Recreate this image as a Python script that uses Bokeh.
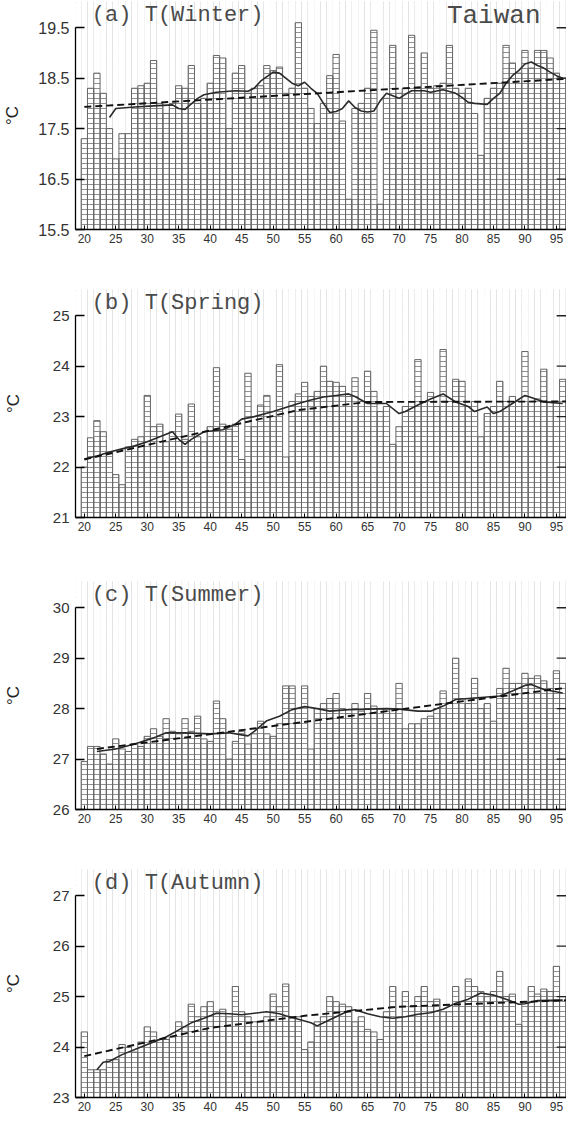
from math import pi
from bokeh.plotting import figure
from bokeh.layouts import column
from bokeh.models import Range1d, FixedTicker, Label
from bokeh.embed import file_html
from bokeh.resources import INLINE

years = list(range(1920, 1997))
tick_years = list(range(1920, 2000, 5))
tick_labels = [str(y % 100) for y in tick_years]

winter = [17.3, 18.3, 18.6, 18.2, 17.5, 16.9, 17.4, 17.4, 18.3, 18.35,
          18.4, 18.85, 18.0, 17.8, 18.0, 18.35, 18.3, 18.75, 18.0, 18.1,
          18.4, 18.95, 18.9, 17.5, 18.6, 18.75, 18.2, 18.3, 18.35, 18.75,
          18.65, 18.72, 18.2, 18.3, 19.6, 18.3, 17.9, 17.6, 18.0, 18.55,
          18.97, 17.65, 16.1, 17.9, 18.0, 18.3, 19.45, 16.0, 18.1, 19.15,
          18.2, 18.3, 19.35, 18.3, 19.0, 18.3, 18.35, 18.4, 19.15, 18.3,
          18.2, 18.3, 17.8, 16.97, 18.1, 18.3, 18.4, 19.15, 18.8, 18.6,
          19.05, 18.7, 19.05, 19.05, 18.9, 18.6, 18.5]
winter_ma_years = [1924, 1925, 1928, 1931, 1934, 1935, 1936, 1938, 1939, 1941,
                   1944, 1946, 1947, 1948, 1950, 1951, 1953, 1954, 1955, 1956,
                   1957, 1958, 1959, 1960, 1961, 1962, 1963, 1964, 1965, 1966,
                   1967, 1968, 1969, 1970, 1971, 1972, 1974, 1975, 1977, 1979,
                   1980, 1981, 1982, 1984, 1985, 1986, 1987, 1988, 1989, 1990,
                   1991, 1992, 1993, 1994, 1995, 1996]
winter_ma = [17.72, 17.9, 17.93, 17.95, 17.97, 17.9, 17.88, 18.1, 18.17, 18.22,
             18.25, 18.24, 18.3, 18.44, 18.62, 18.6, 18.4, 18.35, 18.42, 18.3,
             18.2, 18.0, 17.82, 17.84, 17.9, 18.05, 17.92, 17.85, 17.83, 17.85,
             18.05, 18.2, 18.15, 18.1, 18.18, 18.25, 18.25, 18.22, 18.27, 18.2,
             18.12, 18.02, 18.0, 17.98, 18.1, 18.2, 18.4, 18.55, 18.65, 18.78,
             18.82, 18.75, 18.7, 18.62, 18.55, 18.5]
winter_trend_years = [1920, 1997]
winter_trend = [17.93, 18.49]

spring = [22.0, 22.58, 22.92, 22.7, 22.3, 21.85, 21.65, 22.4, 22.55, 22.6,
          23.42, 22.8, 22.85, 22.5, 22.7, 23.05, 22.55, 23.25, 22.6, 22.5,
          22.8, 23.97, 22.85, 22.75, 22.85, 22.15, 23.86, 22.8, 23.23, 23.42,
          23.0, 24.03, 22.2, 23.3, 23.45, 23.68, 23.4, 23.5, 24.0, 23.7,
          23.68, 23.6, 23.4, 23.77, 23.3, 23.9, 23.5, 23.1, 23.2, 22.45,
          22.8, 23.2, 23.3, 24.13, 23.3, 23.48, 23.2, 24.33, 23.3, 23.74,
          23.7, 23.2, 23.3, 22.6, 23.06, 23.2, 23.7, 23.3, 23.4, 23.3,
          24.29, 23.3, 23.35, 23.94, 23.3, 23.3, 23.74]
spring_ma_years = [1920, 1922, 1924, 1926, 1928, 1930, 1932, 1934, 1935, 1936,
                   1937, 1939, 1942, 1944, 1945, 1947, 1950, 1952, 1954, 1956,
                   1958, 1960, 1962, 1963, 1965, 1968, 1970, 1971, 1973, 1975,
                   1977, 1979, 1981, 1982, 1984, 1985, 1986, 1988, 1990, 1991,
                   1993, 1996]
spring_ma = [22.16, 22.22, 22.3, 22.36, 22.42, 22.5, 22.6, 22.7, 22.55, 22.45,
             22.55, 22.7, 22.74, 22.85, 22.95, 23.0, 23.1, 23.18, 23.26, 23.33,
             23.39, 23.42, 23.45, 23.4, 23.26, 23.26, 23.06, 23.1, 23.23, 23.35,
             23.45, 23.29, 23.2, 23.1, 23.19, 23.06, 23.1, 23.26, 23.42, 23.38,
             23.29, 23.26]
spring_trend_years = [1920, 1954, 1965, 1997]
spring_trend = [22.15, 23.13, 23.29, 23.3]

summer = [26.95, 27.25, 27.25, 27.1, 26.9, 27.4, 27.2, 27.15, 27.3, 27.25,
          27.45, 27.6, 27.45, 27.8, 27.55, 27.5, 27.8, 27.55, 27.85, 27.4,
          27.35, 28.15, 27.8, 27.0, 27.35, 27.55, 27.3, 27.5, 27.75, 27.5,
          27.45, 27.7, 28.45, 28.45, 28.0, 28.45, 27.2, 28.0, 28.1, 28.2,
          28.3, 28.0, 27.9, 28.1, 27.95, 28.3, 28.05, 28.0, 27.95, 28.0,
          28.5, 27.6, 27.7, 27.7, 27.8, 27.85, 28.0, 28.35, 28.1, 29.0,
          28.2, 28.1, 28.6, 28.0, 28.1, 27.75, 28.4, 28.8, 28.5, 28.5,
          28.7, 28.6, 28.65, 28.55, 28.4, 28.75, 28.5]
summer_ma_years = [1922, 1925, 1928, 1931, 1933, 1936, 1940, 1943, 1945, 1946,
                   1947, 1949, 1951, 1953, 1955, 1957, 1959, 1962, 1965, 1968,
                   1970, 1973, 1975, 1977, 1979, 1981, 1983, 1986, 1988, 1990,
                   1991, 1993, 1996]
summer_ma = [27.15, 27.2, 27.3, 27.42, 27.52, 27.52, 27.5, 27.52, 27.48, 27.46,
             27.55, 27.76, 27.85, 27.98, 28.04, 28.0, 27.95, 27.98, 27.99, 28.0,
             27.99, 27.95, 27.95, 28.05, 28.18, 28.2, 28.22, 28.25, 28.35, 28.46,
             28.48, 28.38, 28.31]
summer_trend_years = [1922, 1997]
summer_trend = [27.2, 28.42]

autumn = [24.3, 23.55, 23.55, 23.55, 23.75, 23.75, 24.05, 24.0, 23.9, 24.1,
          24.4, 24.3, 24.15, 24.15, 24.2, 24.5, 24.4, 24.85, 24.6, 24.8,
          24.9, 24.7, 24.75, 24.6, 25.2, 24.7, 24.6, 24.5, 24.5, 24.6,
          25.05, 24.8, 25.25, 24.6, 24.6, 23.95, 24.1, 24.5, 24.6, 25.0,
          24.9, 24.85, 24.8, 24.5, 24.6, 24.35, 24.3, 24.15, 24.7, 25.2,
          24.6, 25.1, 24.8, 25.0, 25.2, 24.9, 24.95, 24.7, 24.7, 25.2,
          24.9, 25.35, 25.2, 25.1, 25.0, 25.1, 25.5, 25.0, 25.05, 24.45,
          24.9, 25.2, 25.05, 25.15, 25.1, 25.6, 25.0]
autumn_ma_years = [1922, 1923, 1924, 1926, 1929, 1931, 1933, 1935, 1937, 1939,
                   1941, 1943, 1945, 1947, 1949, 1951, 1952, 1954, 1956, 1957,
                   1958, 1960, 1962, 1963, 1965, 1967, 1969, 1971, 1973, 1975,
                   1977, 1979, 1981, 1983, 1985, 1987, 1989, 1990, 1992, 1996]
autumn_ma = [23.55, 23.7, 23.72, 23.85, 24.0, 24.1, 24.2, 24.34, 24.48, 24.57,
             24.67, 24.66, 24.64, 24.67, 24.7, 24.66, 24.62, 24.55, 24.48, 24.42,
             24.48, 24.6, 24.72, 24.74, 24.66, 24.6, 24.57, 24.6, 24.65, 24.68,
             24.75, 24.87, 24.95, 25.07, 25.03, 24.95, 24.85, 24.86, 24.92, 24.93]
autumn_trend_years = [1920, 1940, 1955, 1970, 1997]
autumn_trend = [23.82, 24.38, 24.62, 24.8, 24.93]

panels = [
    dict(title="(a) T(Winter)", ymin=15.5, yticks=[15.5, 16.5, 17.5, 18.5, 19.5],
         vals=winter, mx=winter_ma_years, my=winter_ma,
         tx=winter_trend_years, ty=winter_trend, h=288, extra="Taiwan",
         lfs="16px", als=13),
    dict(title="(b) T(Spring)", ymin=21, yticks=[21, 22, 23, 24, 25],
         vals=spring, mx=spring_ma_years, my=spring_ma,
         tx=spring_trend_years, ty=spring_trend, h=292, extra=None,
         lfs="15px", als=27),
    dict(title="(c) T(Summer)", ymin=26, yticks=[26, 27, 28, 29, 30],
         vals=summer, mx=summer_ma_years, my=summer_ma,
         tx=summer_trend_years, ty=summer_trend, h=288, extra=None,
         lfs="15px", als=27),
    dict(title="(d) T(Autumn)", ymin=23, yticks=[23, 24, 25, 26, 27],
         vals=autumn, mx=autumn_ma_years, my=autumn_ma,
         tx=autumn_trend_years, ty=autumn_trend, h=247, extra=None,
         lfs="15px", als=27),
]

X0, X1 = 1918.6, 1996.6
PX_PER_YEAR = 499 / (X1 - X0)
TOP_PAD = 0.52
FRAME_H = 228
BT = 1
figs = []
for pd_ in panels:
    ymin = pd_["ymin"]
    ymax = ymin + 4
    p = figure(width=566, height=pd_["h"], output_backend="svg", toolbar_location=None,
               x_range=Range1d(X0, X1), y_range=Range1d(ymin, ymax + TOP_PAD),
               min_border_left=67, min_border_right=0, min_border_top=BT,
               min_border_bottom=pd_["h"] - BT - FRAME_H)
    p.outline_line_color = None
    p.background_fill_color = "white"

    # cell grid: each bar is a stack of 0.1-degree cells
    p.ygrid.ticker = FixedTicker(ticks=[round(ymin + 0.1 * k, 2) for k in range(1, 46)])
    p.xgrid.ticker = FixedTicker(ticks=[y + 0.5 for y in range(1919, 1997)])
    p.ygrid.grid_line_color = "#858585"
    p.xgrid.grid_line_color = "#858585"
    p.ygrid.grid_line_width = 0.9
    p.xgrid.grid_line_width = 0.9

    vals = pd_["vals"]
    # mask the cell grid above each bar
    p.quad(left=[y - 0.5 for y in years], right=[y + 0.5 for y in years],
           bottom=vals, top=[ymax + 1] * len(years),
           fill_color="white", line_color=None)
    p.quad(left=[X0 - 1], right=[1919.5], bottom=[ymin], top=[ymax + 1],
           fill_color="white", line_color=None)
    # bar outlines
    p.vbar(x=years, top=vals, bottom=ymin, width=1.0, fill_color=None,
           line_color="#666666", line_width=1.0)

    p.line(pd_["mx"], pd_["my"], line_color="#2a2a2a", line_width=1.6)
    p.line(pd_["tx"], pd_["ty"], line_color="#111111", line_width=1.9, line_dash="7 4")

    # inward ticks of the (cut-off) right-hand axis
    yt = pd_["yticks"]
    p.segment(x0=[X1 - 10 / PX_PER_YEAR] * len(yt), x1=[X1] * len(yt), y0=yt, y1=yt,
              line_color="#222222", line_width=1.3)

    ax = p.yaxis[0]
    ax.ticker = FixedTicker(ticks=yt)
    ax.bounds = (ymin, ymax)
    ax.major_tick_in = 9
    ax.major_tick_out = 0
    ax.minor_tick_line_color = None
    ax.axis_line_width = 1.3
    ax.major_tick_line_width = 1.3
    ax.major_label_text_font = "Liberation Sans"
    ax.major_label_text_font_size = pd_["lfs"]
    ax.major_label_text_color = "#333333"
    ax.major_label_standoff = 6
    ax.axis_label = "°C"
    ax.axis_label_text_font = "Liberation Sans"
    ax.axis_label_text_font_size = "17px"
    ax.axis_label_text_font_style = "normal"
    ax.axis_label_text_color = "#222222"
    ax.axis_label_standoff = pd_["als"]

    bx = p.xaxis[0]
    bx.ticker = FixedTicker(ticks=tick_years)
    bx.major_label_overrides = {y: s for y, s in zip(tick_years, tick_labels)}
    bx.major_tick_in = 4
    bx.major_tick_out = 0
    bx.minor_tick_line_color = None
    bx.axis_line_width = 1.3
    bx.major_label_text_font = "Liberation Sans"
    bx.major_label_text_font_size = "12px"
    bx.major_label_text_color = "#333333"
    bx.major_label_standoff = 4

    p.add_layout(Label(x=1921.2, y=ymax + 0.24, text=pd_["title"],
                       text_font="Liberation Mono", text_font_size="22px",
                       text_baseline="middle", text_color="#4a4a4a"))
    if pd_["extra"]:
        p.add_layout(Label(x=1977.6, y=ymax + 0.24, text=pd_["extra"],
                           text_font="Liberation Mono", text_font_size="26px",
                           text_baseline="middle", text_color="#4a4a4a"))
    figs.append(p)

layout = column(*figs, spacing=0)
open("out.html", "w").write(file_html(layout, INLINE))
